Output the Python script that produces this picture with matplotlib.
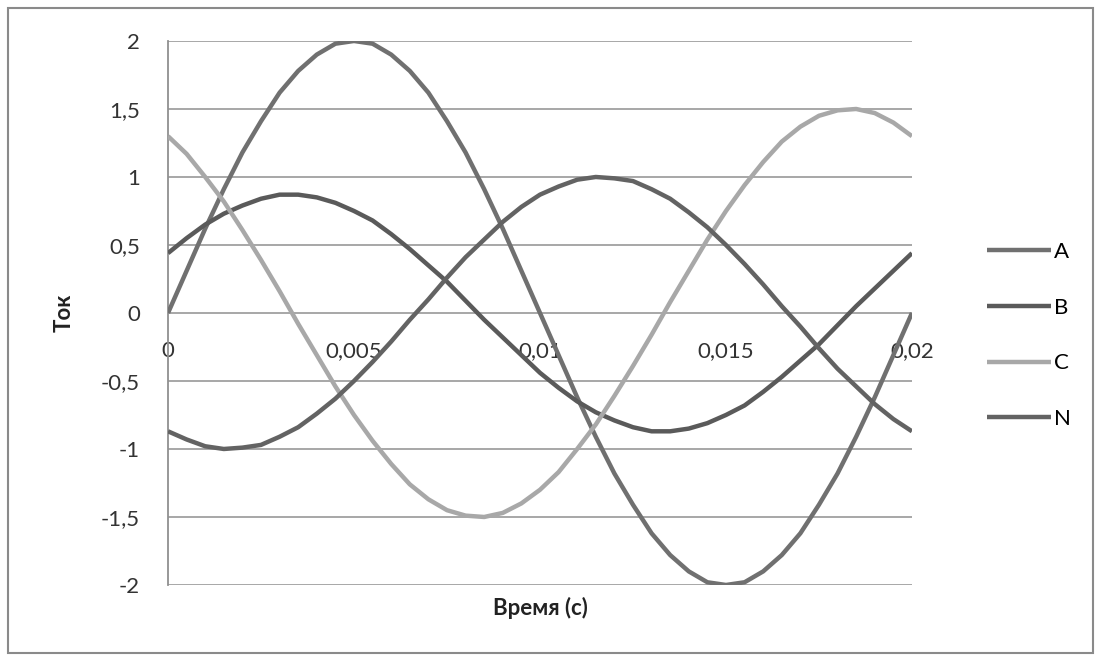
#!/usr/bin/env python

import matplotlib
matplotlib.use('Agg')
import matplotlib.pyplot as plt
from matplotlib.patches import Rectangle

# tiempo (s), paso de 0.0005
time_s = [i * 0.0005 for i in range(41)]

current_a = [0.00, 0.31, 0.62, 0.91, 1.18, 1.41, 1.62, 1.78, 1.90, 1.98,
             2.00, 1.98, 1.90, 1.78, 1.62, 1.41, 1.18, 0.91, 0.62, 0.31,
             0.00, -0.31, -0.62, -0.91, -1.18, -1.41, -1.62, -1.78, -1.90, -1.98,
             -2.00, -1.98, -1.90, -1.78, -1.62, -1.41, -1.18, -0.91, -0.62, -0.31,
             0.00]
current_b = [0.44, 0.55, 0.65, 0.73, 0.79, 0.84, 0.87, 0.87, 0.85, 0.81,
             0.75, 0.68, 0.58, 0.47, 0.35, 0.23, 0.09, -0.05, -0.18, -0.31,
             -0.44, -0.55, -0.65, -0.73, -0.79, -0.84, -0.87, -0.87, -0.85, -0.81,
             -0.75, -0.68, -0.58, -0.47, -0.35, -0.23, -0.09, 0.05, 0.18, 0.31,
             0.44]
current_c = [1.30, 1.17, 1.00, 0.82, 0.61, 0.39, 0.16, -0.08, -0.31, -0.54,
             -0.75, -0.94, -1.11, -1.26, -1.37, -1.45, -1.49, -1.50, -1.47, -1.40,
             -1.30, -1.17, -1.00, -0.82, -0.61, -0.39, -0.16, 0.08, 0.31, 0.54,
             0.75, 0.94, 1.11, 1.26, 1.37, 1.45, 1.49, 1.50, 1.47, 1.40,
             1.30]
current_n = [-0.87, -0.93, -0.98, -1.00, -0.99, -0.97, -0.91, -0.84, -0.74, -0.63,
             -0.50, -0.36, -0.21, -0.05, 0.10, 0.26, 0.41, 0.54, 0.67, 0.78,
             0.87, 0.93, 0.98, 1.00, 0.99, 0.97, 0.91, 0.84, 0.74, 0.63,
             0.50, 0.36, 0.21, 0.05, -0.10, -0.26, -0.41, -0.54, -0.67, -0.78,
             -0.87]

series_names = ['A', 'B', 'C', 'N']
series_colors = ['#707070', '#5a5a5a', '#a8a8a8', '#636363']

x_ticks = [0, 0.005, 0.01, 0.015, 0.02]
x_tick_labels = ['0', '0,005', '0,01', '0,015', '0,02']
y_ticks = [-2, -1.5, -1, -0.5, 0, 0.5, 1, 1.5, 2]
y_tick_labels = ['-2', '-1,5', '-1', '-0,5', '0', '0,5', '1', '1,5', '2']


# ==================================================================
def plot_currents():
    """ Grafica las cuatro corrientes y guarda out.png """
    plt.rcParams['font.family'] = ['Lato', 'DejaVu Sans']
    fig = plt.figure(figsize=(11.01, 6.61), dpi=100)
    ax = fig.add_axes([0.1526, 0.115, 0.6757, 0.823])

    all_series = [current_a, current_b, current_c, current_n]
    for values, name, color in zip(all_series, series_names, series_colors):
        ax.plot(time_s, values, color=color, lw=3.2, label=name,
                solid_capstyle='butt', solid_joinstyle='round', zorder=3)

    # el eje x cruza en y=0 (esto reinicia los ticks, asi que va primero)
    ax.spines['bottom'].set_position(('data', 0))
    ax.spines['bottom'].set_visible(False)
    ax.spines['top'].set_visible(False)
    ax.spines['right'].set_visible(False)
    ax.spines['left'].set_color('#909090')
    ax.spines['left'].set_linewidth(1.3)

    ax.set_xlim(0, 0.02)
    ax.set_ylim(-2, 2)
    ax.set_yticks(y_ticks)
    ax.set_yticklabels(y_tick_labels, fontsize=16, color='#333333')
    ax.set_xticks(x_ticks)
    ax.set_xticklabels(x_tick_labels, fontsize=16, color='#333333')
    ax.grid(axis='y', color='#a0a0a0', lw=1.3)
    ax.set_axisbelow(True)
    ax.tick_params(axis='x', length=0, pad=20)
    ax.tick_params(axis='y', length=0, pad=20)

    ax.set_ylabel('Ток', fontsize=16, fontweight='bold', color='#222222',
                  labelpad=19)
    ax.text(0.5, -0.022, 'Время (с)', transform=ax.transAxes, ha='center',
            va='top', fontsize=16, fontweight='bold', color='#222222')

    ax.legend(loc='upper left', bbox_to_anchor=(0.888, 0.647),
              bbox_transform=fig.transFigure, frameon=False, fontsize=16,
              handlelength=2.9, handletextpad=0.15, labelspacing=1.6,
              borderaxespad=0)

    fig.patches.append(Rectangle((8 / 1101, 8 / 661), 1085 / 1101, 645 / 661,
                                 transform=fig.transFigure, fill=False,
                                 edgecolor='#8a8a8a', lw=1.5))
    fig.savefig('out.png', dpi=100)


# ==================================================================
if __name__ == '__main__':
    plot_currents()
